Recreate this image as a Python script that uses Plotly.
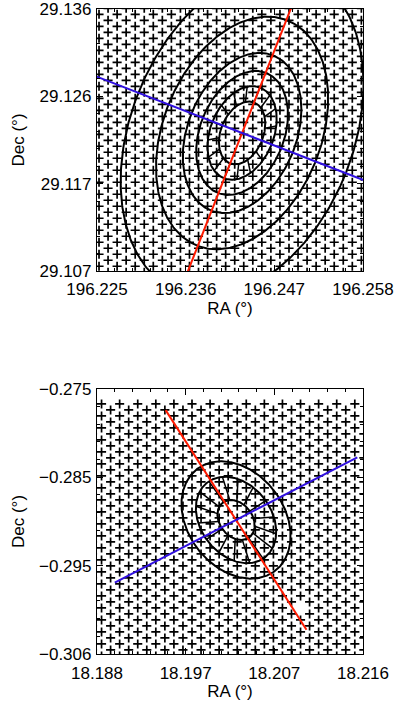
import numpy as np
import plotly.graph_objects as go

# ---------------- data ----------------
# Panel 1 (top)
p1_center = [196.2430, 29.12228]          # RA, Dec of the centre (deg)
p1_ell_a = [13.0, 19.4, 25.7, 33.2, 48.2, 68.0]   # contour semi-major axes (arcsec)
p1_ell_q = 0.64                           # axis ratio
p1_ell_pa = 21.0                          # deg, from +Dec towards +RA (as plotted)
p1_spokes = [0, 1, 16]                    # inner contour, outer contour, number of spokes
p1_red = [21.0, -200.0, 200.0]            # PA, start, end offset (arcsec)
p1_blue = [111.6, -200.0, 200.0]
p1_fib_origin = [196.22525, 29.1062]      # lattice origin (RA, Dec)
p1_fib_step = [3.53, 4.78]                # column spacing, row spacing (arcsec)
p1_fib_n = [32, 25]                       # columns, rows
p1_xticks = [196.225, 196.236, 196.247, 196.258]
p1_xtext = ["196.225", "196.236", "196.247", "196.258"]
p1_yticks = [29.107, 29.116667, 29.126333, 29.136]
p1_ytext = ["29.107", "29.117", "29.126", "29.136"]
p1_xrange = [196.225, 196.258]
p1_yrange = [29.107, 29.136]

# Panel 2 (bottom)
p2_center = [18.20266, -0.29033]
p2_ell_a = [8.8, 19.0, 25.8]
p2_ell_q = 0.74
p2_ell_pa = -34.0
p2_spokes = [0, 1, 16]
p2_red = [-31.7, -52.6, 52.6]
p2_blue = [61.8, -54.0, 54.0]
p2_fib_origin = [18.18701, -0.30640]
p2_fib_step = [3.55, 4.89]
p2_fib_n = [32, 24]
p2_footprint_ra = [18.18701, 18.18821, 18.21535, 18.21677, 18.21677, 18.18701]
p2_footprint_dec = [-0.27901, -0.27652, -0.27652, -0.27810, -0.30640, -0.30640]
p2_fib_missing_ra = [18.20988]            # positions with no fibre
p2_fib_missing_dec = [-0.30029]
p2_xticks = [18.1875, 18.197167, 18.206833, 18.2165]
p2_xtext = ["18.188", "18.197", "18.207", "18.216"]
p2_yticks = [-0.3055, -0.2955, -0.2855, -0.2755]
p2_ytext = ["\u22120.306", "\u22120.295", "\u22120.285", "\u22120.275"]
p2_xrange = [18.1875, 18.2165]
p2_yrange = [-0.3055, -0.2755]

# ---------------- helpers ----------------
def to_sky(center, dx, dy):
    ra = center[0] + np.asarray(dx) / 3600.0 / np.cos(np.radians(center[1]))
    dec = center[1] + np.asarray(dy) / 3600.0
    return ra, dec

def ellipse(center, a, q, pa, t):
    p = np.radians(pa)
    v = a * np.sin(t)
    u = q * a * np.cos(t)
    dx = v * np.sin(p) + u * np.cos(p)
    dy = v * np.cos(p) - u * np.sin(p)
    return to_sky(center, dx, dy)

def lattice(origin, step, n):
    xs, ys = [], []
    for i in range(n[0]):
        for j in range(n[1]):
            xs.append(i * step[0])
            ys.append(j * step[1] + (i % 2) * step[1] / 2.0)
    return to_sky(origin, xs, ys)

def inside(px, py, polx, poly):
    res = np.zeros(len(px), bool)
    n = len(polx)
    for k in range(n):
        x1, y1 = polx[k], poly[k]
        x2, y2 = polx[(k + 1) % n], poly[(k + 1) % n]
        cond = ((y1 > py) != (y2 > py))
        xint = (x2 - x1) * (py - y1) / ((y2 - y1) if y2 != y1 else 1e-30) + x1
        res ^= cond & (px < xint)
    return res

def line(center, spec):
    pa, s0, s1 = spec
    p = np.radians(pa)
    d = np.array([s0, s1])
    return to_sky(center, d * np.sin(p), d * np.cos(p))

fig = go.Figure()

def add_panel(xa, ya, center, ell_a, q, pa, spokes, red, blue, fx, fy):
    fig.add_trace(go.Scatter(x=fx, y=fy, mode="markers", xaxis=xa, yaxis=ya,
                             marker=dict(symbol="cross-thin", size=6.5, color="black",
                                         line=dict(color="black", width=1.7)),
                             showlegend=False, hoverinfo="skip"))
    t = np.linspace(0, 2 * np.pi, 361)
    ex, ey = [], []
    for a in ell_a:
        x, y = ellipse(center, a, q, pa, t)
        ex += list(x) + [None]
        ey += list(y) + [None]
    fig.add_trace(go.Scatter(x=ex, y=ey, mode="lines", xaxis=xa, yaxis=ya,
                             line=dict(color="black", width=2),
                             showlegend=False, hoverinfo="skip"))
    i0, i1, ns = spokes
    sx, sy = [], []
    for k in range(ns):
        tk = np.array([2 * np.pi * k / ns])
        x0, y0 = ellipse(center, ell_a[i0], q, pa, tk)
        x1, y1 = ellipse(center, ell_a[i1], q, pa, tk)
        sx += [x0[0], x1[0], None]
        sy += [y0[0], y1[0], None]
    fig.add_trace(go.Scatter(x=sx, y=sy, mode="lines", xaxis=xa, yaxis=ya,
                             line=dict(color="black", width=1.5),
                             showlegend=False, hoverinfo="skip"))
    rx, ry = line(center, red)
    fig.add_trace(go.Scatter(x=rx, y=ry, mode="lines", xaxis=xa, yaxis=ya,
                             line=dict(color="#ff1a00", width=2),
                             showlegend=False, hoverinfo="skip"))
    bx, by = line(center, blue)
    fig.add_trace(go.Scatter(x=bx, y=by, mode="lines", xaxis=xa, yaxis=ya,
                             line=dict(color="#3010e0", width=2),
                             showlegend=False, hoverinfo="skip"))

f1x, f1y = lattice(p1_fib_origin, p1_fib_step, p1_fib_n)
add_panel("x", "y", p1_center, p1_ell_a, p1_ell_q, p1_ell_pa, p1_spokes,
          p1_red, p1_blue, f1x, f1y)

f2x, f2y = lattice(p2_fib_origin, p2_fib_step, p2_fib_n)
m = inside(f2x, f2y, np.array(p2_footprint_ra), np.array(p2_footprint_dec))
for mra, mdec in zip(p2_fib_missing_ra, p2_fib_missing_dec):
    d2 = (f2x - mra) ** 2 + (f2y - mdec) ** 2
    d2[~m] = np.inf
    m[int(np.argmin(d2))] = False
add_panel("x2", "y2", p2_center, p2_ell_a, p2_ell_q, p2_ell_pa, p2_spokes,
          p2_red, p2_blue, f2x[m], f2y[m])

FONT = dict(family="Liberation Sans, Arial, sans-serif", size=17, color="black")

def minor_vals(ticks, n=5):
    out = []
    for a, b in zip(ticks[:-1], ticks[1:]):
        out += [a + (b - a) * k / n for k in range(1, n)]
    return out

def axis(rng, tv, tt, domain=None, anchor=None, title=None, x=True):
    d = dict(range=rng, tickvals=tv, ticktext=tt, ticks="inside", ticklen=6,
             tickwidth=1, tickcolor="black", showline=True, linecolor="black",
             linewidth=1.2, mirror="ticks", showgrid=False, zeroline=False,
             automargin=False, ticklabeloverflow="allow",
             tickfont=FONT, ticklabelstandoff=(3 if x else 1),
             minor=dict(tickvals=minor_vals(tv), ticks="inside", ticklen=3,
                        tickcolor="black", tickwidth=1, showgrid=False),
             title=dict(text=title, font=FONT, standoff=(2 if x else 10)))
    if domain is not None:
        d["domain"] = domain
    if anchor is not None:
        d["anchor"] = anchor
    return d

fig.update_layout(
    width=396, height=702,
    margin=dict(l=97, r=33, t=9, b=48),
    paper_bgcolor="white", plot_bgcolor="white",
    xaxis=axis(p1_xrange, p1_xticks, p1_xtext, anchor="y", title="RA (°)"),
    yaxis=axis(p1_yrange, p1_yticks, p1_ytext, domain=[0.5938, 1], anchor="x",
               title="Dec (°)", x=False),
    xaxis2=axis(p2_xrange, p2_xticks, p2_xtext, anchor="y2", title="RA (°)"),
    yaxis2=axis(p2_yrange, p2_yticks, p2_ytext, domain=[0, 0.4109], anchor="x2",
                title="Dec (°)", x=False),
)

fig.write_html("out.html", post_script="document.body.style.margin='0';",
               config={"displayModeBar": False})
